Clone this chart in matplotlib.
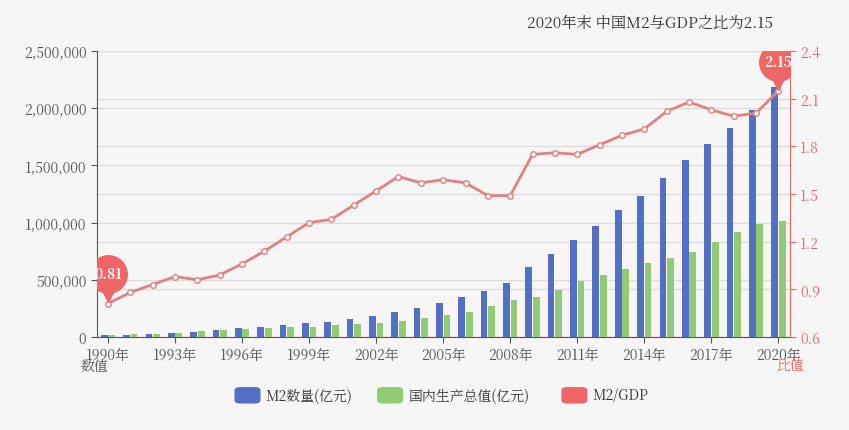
import matplotlib
matplotlib.use("Agg")
import matplotlib.pyplot as plt
import matplotlib.transforms as mtransforms
from matplotlib import font_manager
from matplotlib.patches import FancyBboxPatch
import numpy as np

cjk = [f.name for f in font_manager.fontManager.ttflist if 'CJK' in f.name]
pref = [n for n in cjk if 'SC' in n] or cjk
plt.rcParams['font.family'] = 'sans-serif'
plt.rcParams['font.sans-serif'] = (pref[:1] if pref else []) + ['DejaVu Sans']

years = list(range(1990, 2021))
m2 = [15293, 19350, 25402, 34880, 46924, 60751, 76095, 90995, 104499, 119898, 134610, 158302,
      185007, 221223, 254107, 298756, 345578, 403442, 475167, 610225, 725852, 851591, 974149,
      1106525, 1228375, 1392278, 1550067, 1690235, 1826744, 1986489, 2186796]
gdp = [18873, 22006, 27195, 35673, 48638, 61340, 71814, 79715, 85196, 90564, 100280, 110863,
       121717, 137422, 161840, 187319, 219439, 270092, 319245, 348518, 412119, 487940, 538580,
       592963, 643563, 688858, 746395, 832036, 919281, 986515, 1015986]
ratio = [0.81, 0.88, 0.93, 0.98, 0.96, 0.99, 1.06, 1.14, 1.23, 1.32, 1.34, 1.43, 1.52, 1.61,
         1.57, 1.59, 1.57, 1.49, 1.49, 1.75, 1.76, 1.75, 1.81, 1.87, 1.91, 2.02, 2.08, 2.03,
         1.99, 2.01, 2.15]

BLUE, GREEN, RED = '#5470c6', '#91cc75', '#ee6666'
fig = plt.figure(figsize=(8.49, 4.31), dpi=100, facecolor='#f6f6f6')
ax = fig.add_axes([0.114, 0.216, 0.816, 0.663])
ax.set_facecolor('#f6f6f6')
x = np.arange(len(years))
w = 0.3
ax.bar(x - 0.17, m2, w, color=BLUE, zorder=3)
ax.bar(x + 0.17, gdp, w, color=GREEN, zorder=3)
ax.set_xlim(-0.5, len(years) - 0.5)
ax.set_ylim(0, 2500000)
ax.set_yticks(range(0, 2500001, 500000))
ax.set_yticklabels([f"{v:,}" for v in range(0, 2500001, 500000)], color='#555', fontsize=10)
ax.set_xticks(x[::3])
ax.set_xticklabels([f"{y}年" for y in years[::3]], color='#555', fontsize=10)
ax.grid(axis='y', color='#dddddd', lw=1, zorder=0)
ax.set_axisbelow(True)
for s in ['top', 'right']:
    ax.spines[s].set_visible(False)
ax.spines['left'].set_color('#555')
ax.spines['bottom'].set_color('#555')
ax.tick_params(length=4, color='#555')

ax2 = ax.twinx()
ax2.patch.set_visible(False)
ax2.set_ylim(0.6, 2.4)
rticks = np.arange(0.6, 2.41, 0.3)
ax2.set_yticks(rticks)
ax2.set_yticklabels([f"{v:.1f}" for v in rticks], color=RED, fontsize=10)
ax2.spines['right'].set_color(RED)
for s in ['top', 'left', 'bottom']:
    ax2.spines[s].set_visible(False)
ax2.tick_params(colors=RED, length=4)
# right-axis gridlines drawn on the bar axes so they stay behind the bars
blend = mtransforms.blended_transform_factory(ax.transAxes, ax2.transData)
for v in rticks[1:]:
    ax.plot([0, 1], [v, v], transform=blend, color='#dddddd', lw=1, zorder=0)
ax2.plot(x, ratio, color='#e58080', lw=2, marker='o', ms=4, mfc='white', mec='#e58080', zorder=4)

for i in [0, len(years) - 1]:
    tr = mtransforms.offset_copy(ax2.transData, fig=fig, x=0, y=8, units='points')
    tc = mtransforms.offset_copy(ax2.transData, fig=fig, x=0, y=21, units='points')
    ax2.plot([x[i]], [ratio[i]], marker='v', ms=14, color=RED, transform=tr, zorder=6, ls='none')
    ax2.plot([x[i]], [ratio[i]], marker='o', ms=27, color=RED, transform=tc, zorder=6, ls='none')
    ax2.text(x[i], ratio[i], f"{ratio[i]:.2f}", transform=tc, ha='center', va='center',
             color='white', fontsize=10, fontweight='bold', zorder=7)

fig.text(0.91, 0.945, "2020年末 中国M2与GDP之比为2.15", ha='right', va='center', fontsize=11, color='#333')
fig.text(0.095, 0.14, "数值", fontsize=10, color='#555')
fig.text(0.915, 0.14, "比值", fontsize=10, color=RED)

items = [(BLUE, "M2数量(亿元)", 0.277), (GREEN, "国内生产总值(亿元)", 0.445), (RED, "M2/GDP", 0.662)]
for c, t, px in items:
    fig.patches.append(FancyBboxPatch((px, 0.063), 0.029, 0.035, boxstyle="round,pad=0,rounding_size=0.006",
                                      transform=fig.transFigure, color=c))
    fig.text(px + 0.036, 0.08, t, va='center', fontsize=10, color='#333')

fig.savefig("out.png", dpi=100, facecolor=fig.get_facecolor())
